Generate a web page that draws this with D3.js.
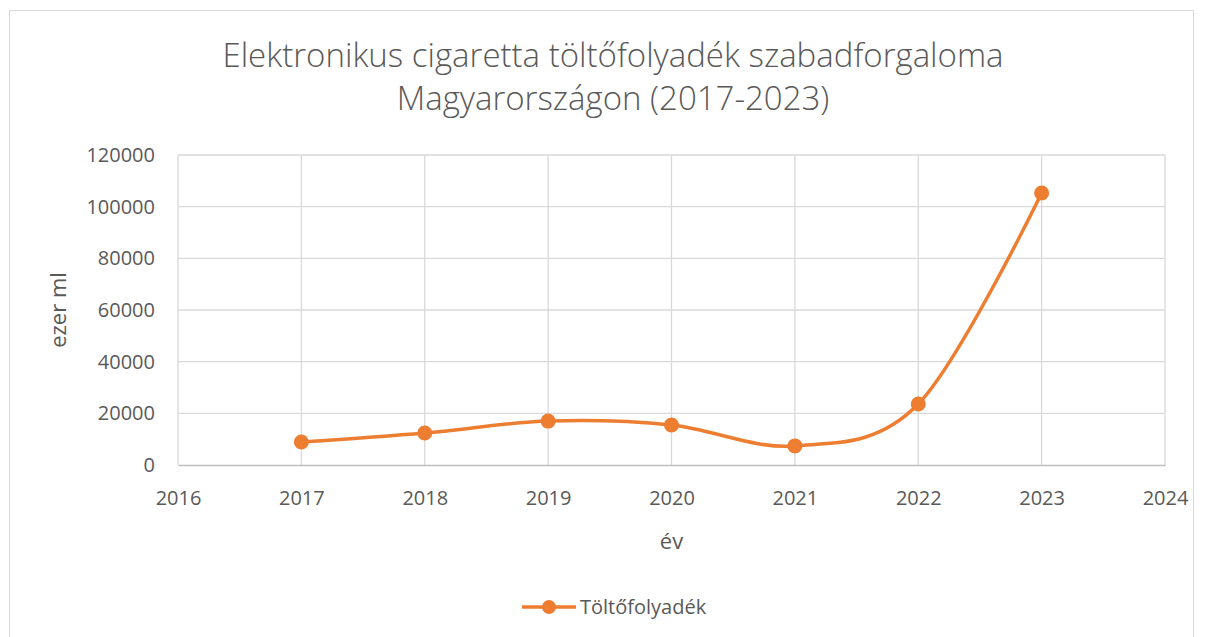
<!DOCTYPE html>
<html>
<head>
<meta charset="utf-8">
<script src="https://cdn.jsdelivr.net/npm/d3@7"></script>
<style>
  body { margin: 0; background: #fff; }
  text { font-family: "Open Sans", "Liberation Sans", sans-serif; fill: #595959; }
</style>
</head>
<body>
<svg id="chart" width="1205" height="637"></svg>
<script>
// Chart data
const years = [2017, 2018, 2019, 2020, 2021, 2022, 2023];
const values = [8900, 12400, 17000, 15500, 7400, 23600, 105300];
const yTicks = [0, 20000, 40000, 60000, 80000, 100000, 120000];
const xTicks = [2016, 2017, 2018, 2019, 2020, 2021, 2022, 2023, 2024];
const seriesName = "Töltőfolyadék";

const data = years.map((y, i) => ({ year: y, value: values[i] }));

// Size and margins
const size = {
    width: 1205,
    height: 637,
    margin: { top: 155, right: 40, bottom: 172, left: 178 }
};

const svg = d3.select("#chart");

// Outer chart border
svg.append("rect")
    .attr("x", 9.5)
    .attr("y", 10.5)
    .attr("width", 1184)
    .attr("height", 660)
    .attr("fill", "none")
    .attr("stroke", "#d9d9d9");

// Scales
const xScale = d3.scaleLinear()
    .domain([2016, 2024])
    .range([size.margin.left, size.width - size.margin.right]);

const yScale = d3.scaleLinear()
    .domain([0, 120000])
    .range([size.height - size.margin.bottom, size.margin.top]);

// Gridlines
svg.append("g")
    .selectAll("line")
    .data(yTicks.slice(1))
    .join("line")
    .attr("x1", xScale(2016))
    .attr("x2", xScale(2024))
    .attr("y1", d => yScale(d))
    .attr("y2", d => yScale(d))
    .attr("stroke", "#d9d9d9")
    .attr("stroke-width", 1.3);

svg.append("g")
    .selectAll("line")
    .data(xTicks)
    .join("line")
    .attr("x1", d => xScale(d))
    .attr("x2", d => xScale(d))
    .attr("y1", yScale(0))
    .attr("y2", yScale(120000))
    .attr("stroke", "#d9d9d9")
    .attr("stroke-width", 1.3);

// X axis
const xAxis = svg.append("g")
    .attr("transform", `translate(0, ${yScale(0)})`)
    .call(d3.axisBottom(xScale).tickValues(xTicks).tickFormat(d3.format("d")).tickSize(0).tickPadding(26));
xAxis.select(".domain").attr("stroke", "#bfbfbf").attr("stroke-width", 1.5);
xAxis.selectAll("text").style("font-size", "20px");

// Y axis
const yAxis = svg.append("g")
    .attr("transform", `translate(${xScale(2016)}, 0)`)
    .call(d3.axisLeft(yScale).tickValues(yTicks).tickFormat(d3.format("d")).tickSize(0).tickPadding(23));
yAxis.select(".domain").remove();
yAxis.selectAll("text").style("font-size", "20px");

// Smoothed line
const line = d3.line()
    .x(d => xScale(d.year))
    .y(d => yScale(d.value))
    .curve(d3.curveCatmullRom.alpha(0));

svg.append("path")
    .datum(data)
    .attr("d", line)
    .attr("fill", "none")
    .attr("stroke", "#ed7d31")
    .attr("stroke-width", 3.5);

// Markers
svg.selectAll("circle.pt")
    .data(data)
    .join("circle")
    .attr("class", "pt")
    .attr("cx", d => xScale(d.year))
    .attr("cy", d => yScale(d.value))
    .attr("r", 7.5)
    .attr("fill", "#ed7d31");

// Title
const title = svg.append("text")
    .attr("text-anchor", "middle")
    .style("font-size", "33px")
    .style("font-weight", "300");
title.append("tspan").attr("x", 613).attr("y", 67).text("Elektronikus cigaretta töltőfolyadék szabadforgaloma");
title.append("tspan").attr("x", 613).attr("y", 110).text("Magyarországon (2017-2023)");

// Axis labels
svg.append("text")
    .attr("x", xScale(2020))
    .attr("y", 549)
    .attr("text-anchor", "middle")
    .style("font-size", "22px")
    .text("év");

svg.append("text")
    .attr("transform", "rotate(-90)")
    .attr("x", -yScale(60000))
    .attr("y", 66)
    .attr("text-anchor", "middle")
    .style("font-size", "22px")
    .text("ezer ml");

// Legend
const legend = svg.append("g").attr("transform", "translate(522, 607)");
legend.append("line")
    .attr("x1", 0).attr("x2", 54)
    .attr("stroke", "#ed7d31")
    .attr("stroke-width", 3.5);
legend.append("circle")
    .attr("cx", 27)
    .attr("r", 7)
    .attr("fill", "#ed7d31");
legend.append("text")
    .attr("x", 58)
    .attr("y", 7)
    .style("font-size", "20px")
    .text(seriesName);
</script>
</body>
</html>
